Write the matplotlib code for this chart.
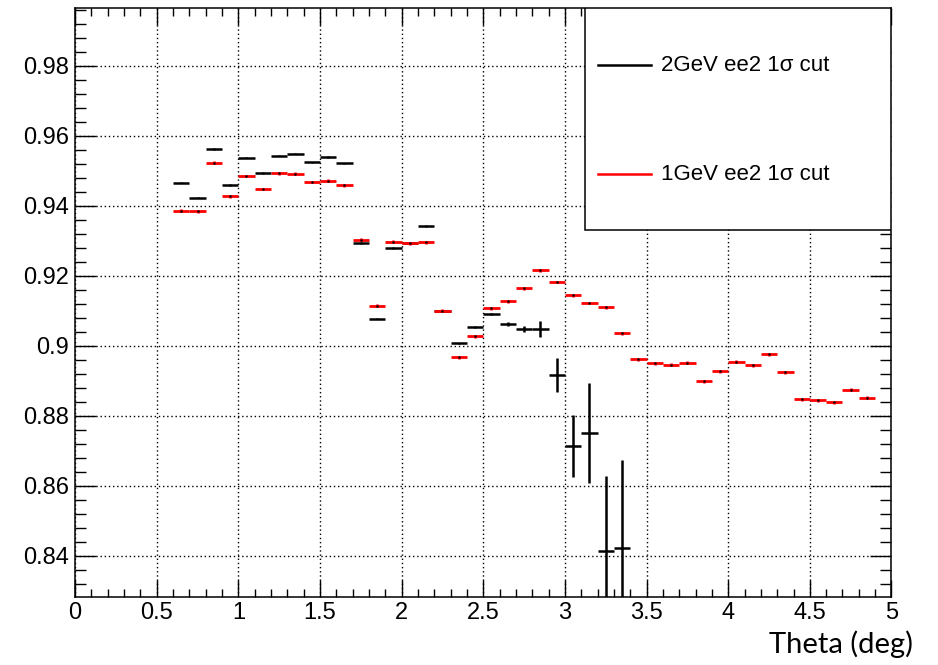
import matplotlib
matplotlib.use("Agg")
from matplotlib import pyplot as plt
from matplotlib.ticker import MultipleLocator, FuncFormatter
from matplotlib.patches import Rectangle

plt.rcParams["font.family"] = ["Liberation Sans", "DejaVu Sans"]

# bin centres (width 0.1 deg)
theta_2gev = [0.65, 0.75, 0.85, 0.95, 1.05, 1.15, 1.25, 1.35, 1.45, 1.55,
              1.65, 1.75, 1.85, 1.95, 2.05, 2.15, 2.25, 2.35, 2.45, 2.55,
              2.65, 2.75, 2.85, 2.95, 3.05, 3.15, 3.25, 3.35]
eff_2gev = [0.9466, 0.9423, 0.9562, 0.9459, 0.9537, 0.9493, 0.9543, 0.9549,
            0.9524, 0.9539, 0.9521, 0.9293, 0.9077, 0.9279, 0.9293, 0.9342,
            0.9100, 0.9007, 0.9053, 0.9090, 0.9062, 0.9048, 0.9048, 0.8916,
            0.8713, 0.8751, 0.8415, 0.8423]
err_2gev = [0.0002, 0.0002, 0.0002, 0.0002, 0.0002, 0.0002, 0.0002, 0.0002,
            0.0002, 0.0002, 0.0002, 0.0002, 0.0002, 0.0002, 0.0002, 0.0002,
            0.0002, 0.0002, 0.0003, 0.0003, 0.0005, 0.0009, 0.0022, 0.0049,
            0.0089, 0.0143, 0.0212, 0.0251]

theta_1gev = [0.65, 0.75, 0.85, 0.95, 1.05, 1.15, 1.25, 1.35, 1.45, 1.55,
              1.65, 1.75, 1.85, 1.95, 2.05, 2.15, 2.25, 2.35, 2.45, 2.55,
              2.65, 2.75, 2.85, 2.95, 3.05, 3.15, 3.25, 3.35, 3.45, 3.55,
              3.65, 3.75, 3.85, 3.95, 4.05, 4.15, 4.25, 4.35, 4.45, 4.55,
              4.65, 4.75, 4.85]
eff_1gev = [0.9386, 0.9384, 0.9523, 0.9427, 0.9485, 0.9448, 0.9493, 0.9491,
            0.9468, 0.9471, 0.9458, 0.9303, 0.9114, 0.9297, 0.9293, 0.9296,
            0.9100, 0.8967, 0.9027, 0.9107, 0.9127, 0.9164, 0.9216, 0.9182,
            0.9144, 0.9122, 0.9110, 0.9035, 0.8961, 0.8950, 0.8946, 0.8951,
            0.8898, 0.8927, 0.8954, 0.8944, 0.8975, 0.8924, 0.8847, 0.8844,
            0.8838, 0.8874, 0.8851]
err_1gev = [0.0004] * len(eff_1gev)

bin_half = 0.05

fig = plt.figure(figsize=(9.38, 6.65), dpi=100)
ax = fig.add_axes([0.0800, 0.1027, 0.8704, 0.8848])

ax.errorbar(theta_2gev, eff_2gev, xerr=bin_half, yerr=err_2gev, fmt="none",
            ecolor="black", elinewidth=1.8, capsize=0, zorder=3)
ax.errorbar(theta_1gev, eff_1gev, xerr=bin_half, yerr=err_1gev, fmt=".",
            color="black", markersize=1.5, ecolor="#ff0000", elinewidth=2.0,
            capsize=0, zorder=4)

ax.set_xlim(0, 5)
ax.set_ylim(0.8283, 0.9964)

ax.xaxis.set_major_locator(MultipleLocator(0.5))
ax.xaxis.set_minor_locator(MultipleLocator(0.1))
ax.yaxis.set_major_locator(MultipleLocator(0.02))
ax.yaxis.set_minor_locator(MultipleLocator(0.004))
fmt = FuncFormatter(lambda v, p: "%g" % round(v, 4))
ax.xaxis.set_major_formatter(fmt)
ax.yaxis.set_major_formatter(fmt)

ax.tick_params(axis="both", which="both", direction="in", top=True,
               right=True, width=1.0, labelsize=17)
ax.tick_params(axis="x", which="major", length=12, pad=4)
ax.tick_params(axis="x", which="minor", length=6)
ax.tick_params(axis="y", which="major", length=15, pad=4.5)
ax.tick_params(axis="y", which="minor", length=8)

ax.grid(True, which="major", color="black", linewidth=1.0,
        linestyle=(0, (1, 2)))
for s in ax.spines.values():
    s.set_linewidth(1.1)

# legend box (ROOT TLegend style)
ax.add_patch(Rectangle((0.6245, 0.623), 0.3755, 0.377, transform=ax.transAxes,
                       facecolor="white", edgecolor="black", linewidth=1.1,
                       zorder=5))
labels = ["2GeV ee2 1σ cut", "1GeV ee2 1σ cut"]
colors = ["black", "#ff0000"]
rows = [0.903, 0.718]
for lab, c, yy in zip(labels, colors, rows):
    ax.plot([0.641, 0.706], [yy, yy], color=c, linewidth=1.8,
            transform=ax.transAxes, zorder=6)
    ax.text(0.718, yy, lab, transform=ax.transAxes, fontsize=16,
            va="center", ha="left", zorder=6)

fig.text(0.9735, 0.0175, "Theta (deg)", fontsize=21, ha="right",
         va="baseline", family=["Lato", "DejaVu Sans"])

fig.savefig("out.png", dpi=100)
